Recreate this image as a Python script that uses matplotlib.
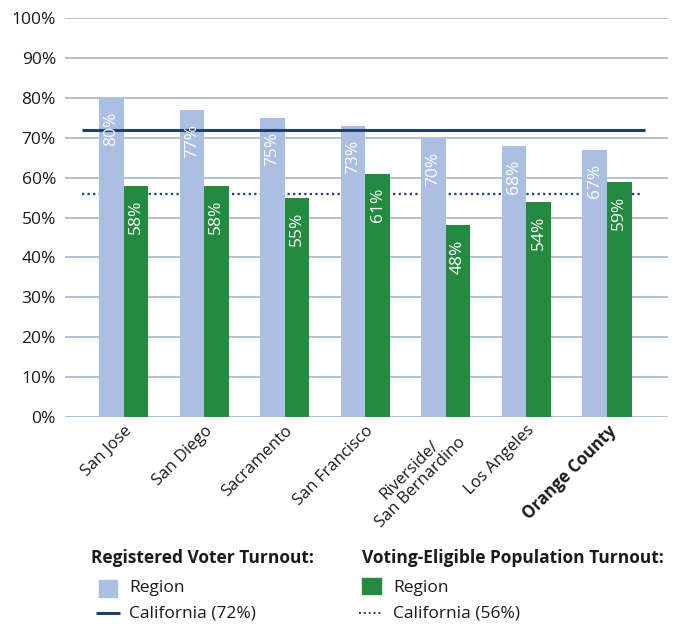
import matplotlib
matplotlib.use("Agg")
import matplotlib.pyplot as plt
from matplotlib.patches import Rectangle
from matplotlib.lines import Line2D
import numpy as np

plt.rcParams['font.family'] = ['Open Sans', 'DejaVu Sans']

regions = ["San Jose", "San Diego", "Sacramento", "San Francisco",
           "Riverside/\nSan Bernardino", "Los Angeles", "Orange County"]
registered = [80, 77, 75, 73, 70, 68, 67]
eligible = [58, 58, 55, 61, 48, 54, 59]
ca_registered = 72
ca_eligible = 56
yticks = list(range(0, 101, 10))

light = "#aabfe1"
green = "#238a3f"
navy = "#1f3f6e"
grid = "#a6b8cc"
txt = "#1a1a1a"
fs = 12.5

W, H = 678, 624
fig = plt.figure(figsize=(W/100, H/100), dpi=100)
ax = fig.add_axes([65/W, 1 - 417/H, 603/W, 399/H])

x = np.arange(len(regions))
w = 0.305
ax.bar(x - w/2, registered, width=w, color=light, zorder=3)
ax.bar(x + w/2, eligible, width=w, color=green, zorder=3)

ax.plot([-0.515, 6.47], [ca_registered]*2, color=navy, lw=2.2,
        solid_capstyle="butt", zorder=4)
ax.plot([-0.515, 6.45], [ca_eligible]*2, color=navy, lw=1.6,
        linestyle=(0, (1, 1.5)), dash_capstyle="butt", zorder=2)

for xs, vals in ((x - w/2, registered), (x + w/2, eligible)):
    for xi, v in zip(xs, vals):
        ax.annotate(f"{v}%", (xi, v), xytext=(0, -10), textcoords="offset points",
                    rotation=90, ha="center", va="top", color="white",
                    fontsize=12.5, zorder=5)

ax.set_xlim(-0.726, 6.757)
ax.set_ylim(0, 100)
ax.set_yticks(yticks)
ax.set_yticklabels([f"{t}%" for t in yticks], fontsize=fs, color=txt)
ax.yaxis.grid(True, color=grid, lw=1.2, zorder=1)
ax.set_axisbelow(True)
ax.tick_params(axis="y", length=0, pad=6.5)
ax.tick_params(axis="x", length=0, pad=4)
for s in ax.spines.values():
    s.set_visible(False)

ax.set_xticks(x)
ax.set_xticklabels(regions, rotation=45, ha="right", rotation_mode="anchor",
                   fontsize=12, color=txt, multialignment="center",
                   linespacing=1.05)
ax.get_xticklabels()[-1].set_fontweight("bold")

# legend block
fig.text(91/W, 1 - 558/H, "Registered Voter Turnout:", fontsize=fs,
         fontweight="bold", va="center", ha="left", color=txt)
fig.text(362/W, 1 - 558/H, "Voting-Eligible Population Turnout:", fontsize=fs,
         fontweight="bold", va="center", ha="left", color=txt)

def square(x0, x1, y0, y1, color):
    fig.patches.append(Rectangle((x0/W, 1 - y1/H), (x1 - x0)/W, (y1 - y0)/H,
                                 transform=fig.transFigure, color=color))

square(99, 117, 580, 597, light)
square(362, 381, 578, 594, green)
fig.text(129/W, 1 - 588/H, "Region", fontsize=fs, va="center", color=txt)
fig.text(393/W, 1 - 588/H, "Region", fontsize=fs, va="center", color=txt)
fig.lines.append(Line2D([96/W, 120/W], [1 - 613/H]*2, color=navy, lw=2.2,
                        solid_capstyle="butt", transform=fig.transFigure))
fig.lines.append(Line2D([359/W, 381/W], [1 - 613/H]*2, color=navy, lw=1.4,
                        linestyle=(0, (1, 1.5)), dash_capstyle="butt",
                        transform=fig.transFigure))
fig.text(129/W, 1 - 613/H, f"California ({ca_registered}%)", fontsize=fs,
         va="center", color=txt)
fig.text(393/W, 1 - 613/H, f"California ({ca_eligible}%)", fontsize=fs,
         va="center", color=txt)

fig.savefig("out.png", dpi=100)
